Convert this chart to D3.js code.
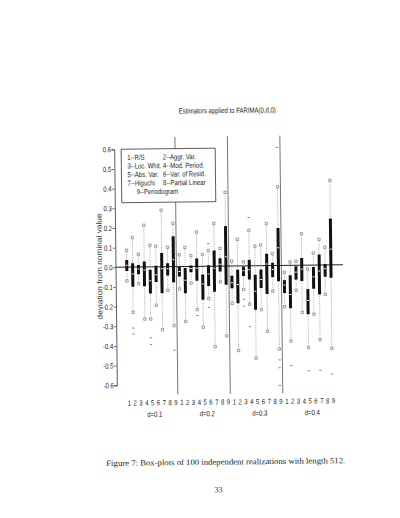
<!DOCTYPE html>
<html><head><meta charset="utf-8">
<script src="https://cdn.jsdelivr.net/npm/d3@7"></script>
<style>body{margin:0;background:#fff}</style>
</head><body>
<svg id="c" width="400" height="518"></svg>
<script>
// ---------- data ----------
const groups = ["d=0.1", "d=0.2", "d=0.3", "d=0.4"];
const estimators = ["1","2","3","4","5","6","7","8","9"];
const tickValues = [0.6,0.5,0.4,0.3,0.2,0.1,0,-0.1,-0.2,-0.3,-0.4,-0.5,-0.6];
const tickLabels = ["0.6","0.5","0.4","0.3","0.2","0.1","0.0","-0.1","-0.2","-0.3","-0.4","-0.5","-0.6"];
const legendItems = ["1--R/S","2--Aggr. Var.","3--Loc. Whit.","4--Mod. Period.","5--Abs. Var.","6--Var. of Resid.","7--Higuchi","8--Partial Linear","9--Periodogram"];
const titleText = "Estimators applied to FARIMA(0,d,0)";
const yLabel = "deviation from nominal value";
const caption = "Figure 7: Box-plots of 100 independent realizations with length 512.";
const pageNumber = "33";

// 36 boxes: d=0.1 (1..9), d=0.2 (1..9), d=0.3 (1..9), d=0.4 (1..9)
const whiskerHigh = [0.086,0.15,0.065,0.212,0.11,0.105,0.288,0.099,0.22,
                     0.06,0.097,0.055,0.175,0.06,0.08,0.217,0.09,0.375,
                     0.025,0.135,0.02,0.18,0.1,0.105,0.214,0.06,0.40,
                     -0.035,0.017,0.02,0.16,-0.02,0.061,0.13,0.09,0.43];
const q3 = [0.037,0.02,0.01,0.028,-0.015,0.005,0.07,0.018,0.155,
            0.0,-0.008,0.005,0.04,-0.042,0.005,0.08,0.04,0.203,
            -0.05,-0.02,-0.003,0.03,-0.046,-0.02,0.06,0.014,0.19,
            -0.075,-0.05,-0.005,0.036,-0.122,-0.01,0.053,0.005,0.235];
const median = [0.01,-0.035,-0.01,-0.015,-0.07,-0.04,-0.01,-0.01,0.035,
                -0.025,-0.07,-0.01,-0.01,-0.09,-0.04,-0.01,0.01,0.047,
                -0.085,-0.095,-0.025,-0.02,-0.13,-0.07,0.008,-0.02,0.09,
                -0.1,-0.148,-0.035,-0.02,-0.18,-0.06,-0.03,-0.02,0.08];
const q1 = [-0.02,-0.1,-0.037,-0.098,-0.135,-0.077,-0.135,-0.045,-0.08,
            -0.05,-0.136,-0.03,-0.073,-0.17,-0.1,-0.13,-0.027,-0.095,
            -0.113,-0.19,-0.052,-0.07,-0.224,-0.114,-0.144,-0.059,-0.08,
            -0.14,-0.218,-0.073,-0.08,-0.25,-0.12,-0.15,-0.06,-0.066];
const whiskerLow = [-0.07,-0.23,-0.085,-0.265,-0.265,-0.195,-0.32,-0.12,-0.3,
                    -0.114,-0.28,-0.085,-0.22,-0.31,-0.165,-0.41,-0.08,-0.355,
                    -0.19,-0.43,-0.12,-0.195,-0.47,-0.224,-0.334,-0.13,-0.425,
                    -0.21,-0.385,-0.128,-0.24,-0.42,-0.25,-0.38,-0.15,-0.425];
// outliers: [box index, value]
const outlierBox = [1,1,4,4,8, 12,14,14, 20,20,21,21,26,26,26,26, 28,31,33,35];
const outlierVal = [-0.31,-0.34,-0.36,-0.395,-0.425, -0.25,0.115,-0.21,
                    -0.17,-0.205,0.245,-0.31,0.6,-0.48,-0.52,-0.61, -0.51,-0.537,-0.535,-0.555];

// ---------- drawing ----------
const svg = d3.select("#c");
svg.append("rect").attr("width",400).attr("height",518).attr("fill","#fff");
const page = svg.append("g").attr("transform","rotate(-0.65,230,266)");

const sans = "'Liberation Sans','Arial','Helvetica',sans-serif";
const SX = 0.8; // condensed face
function narrowText(parent, x0, y0, txt, anchor, size) {
  return parent.append("text")
    .attr("transform", `translate(${x0},${y0}) scale(${SX},1)`)
    .attr("text-anchor", anchor || "start")
    .attr("font-family", sans).attr("font-size", size || 7.5).attr("fill", "#222")
    .text(txt);
}

const keys = [];
groups.forEach((g,gi)=>estimators.forEach(e=>keys.push(gi+"-"+e)));
const x = d3.scalePoint().domain(keys).range([126.8, 330.9]);
const y = d3.scaleLinear().domain([-0.6,0.6]).range([384,148]);
const step = x.step();
const axisX = 115.5;

// separators between groups
const sepIdx = [1,2,3];
page.selectAll("line.sep").data(sepIdx).join("line")
  .attr("x1",d=>x(keys[d*9-1])+step/2).attr("x2",d=>x(keys[d*9-1])+step/2)
  .attr("y1",y(0.66)).attr("y2",y(-0.65))
  .attr("stroke","#555").attr("stroke-width",0.8);

// zero line
page.append("line").attr("x1",axisX).attr("x2",343).attr("y1",y(0)).attr("y2",y(0))
  .attr("stroke","#222").attr("stroke-width",1.1);

const boxes = keys.map((k,i)=>({k,i,hi:whiskerHigh[i],q3:q3[i],med:median[i],q1:q1[i],lo:whiskerLow[i]}));

// whiskers
const wg = page.append("g");
wg.selectAll("line.wu").data(boxes).join("line")
  .attr("x1",d=>x(d.k)).attr("x2",d=>x(d.k)).attr("y1",d=>y(d.q3)).attr("y2",d=>y(d.hi)+1)
  .attr("stroke","#888").attr("stroke-width",0.7).attr("stroke-dasharray","0.8,0.9");
wg.selectAll("line.wl").data(boxes).join("line")
  .attr("x1",d=>x(d.k)).attr("x2",d=>x(d.k)).attr("y1",d=>y(d.q1)).attr("y2",d=>y(d.lo)-1)
  .attr("stroke","#888").attr("stroke-width",0.7).attr("stroke-dasharray","0.8,0.9");
// boxes
page.selectAll("rect.box").data(boxes).join("rect")
  .attr("x",d=>x(d.k)-1.5).attr("width",3)
  .attr("y",d=>y(d.q3)).attr("height",d=>y(d.q1)-y(d.q3))
  .attr("fill","#111");
// medians
page.selectAll("line.med").data(boxes).join("line")
  .attr("x1",d=>x(d.k)-0.9).attr("x2",d=>x(d.k)+0.9).attr("y1",d=>y(d.med)).attr("y2",d=>y(d.med))
  .attr("stroke","#fff").attr("stroke-width",1);
// whisker end squares
const ends = [];
boxes.forEach(d=>{ends.push({k:d.k,v:d.hi});ends.push({k:d.k,v:d.lo});});
page.selectAll("rect.end").data(ends).join("rect")
  .attr("x",d=>x(d.k)-1.2).attr("y",d=>y(d.v)-1.2).attr("width",2.4).attr("height",2.4)
  .attr("fill","#fff").attr("stroke","#666").attr("stroke-width",0.6);
// outliers
const outs = outlierBox.map((b,i)=>({k:keys[b],v:outlierVal[i]}));
page.selectAll("line.out").data(outs).join("line")
  .attr("x1",d=>x(d.k)-1.2).attr("x2",d=>x(d.k)+1.2).attr("y1",d=>y(d.v)).attr("y2",d=>y(d.v))
  .attr("stroke","#555").attr("stroke-width",0.7);

// y axis
const ax = page.append("g").attr("transform",`translate(${axisX},0)`)
  .call(d3.axisLeft(y).tickValues(tickValues).tickFormat((d,i)=>tickLabels[i]).tickSize(2.5).tickPadding(0.5));
ax.select(".domain").attr("stroke","#333").attr("stroke-width",0.8);
ax.selectAll(".tick line").attr("stroke","#333").attr("stroke-width",0.7);
ax.selectAll(".tick text").attr("font-family",sans).attr("font-size",7.5).attr("fill","#222")
  .attr("x",-3/SX).attr("transform",`scale(${SX},1)`);

// x labels
keys.forEach(k=>narrowText(page, x(k)+1, 404.5, k.split("-")[1], "middle"));
groups.forEach((g,i)=>narrowText(page, x(i+"-5")+3, 416, g, "middle"));

// y label
page.append("text").attr("transform","translate(102,265) rotate(-90)")
  .attr("text-anchor","middle").attr("font-family",sans).attr("font-size",7.5)
  .attr("textLength",106).attr("lengthAdjust","spacingAndGlyphs")
  .attr("fill","#333").text(yLabel);

// title
narrowText(page, 229, 113, titleText, "middle");

// legend
const lg = page.append("g");
lg.append("rect").attr("x",122.5).attr("y",148).attr("width",94).attr("height",53.5)
  .attr("fill","#fff").attr("stroke","#333").attr("stroke-width",0.8);
legendItems.forEach((t,i)=>{
  const row = Math.floor(i/2), col = i%2;
  const xx = i===8 ? 137.5 : (col===0 ? 128.5 : 164);
  narrowText(lg, xx, 158.8+row*8.6, t, "start");
});

// caption and page number
page.append("text").attr("x",104).attr("y",464.5).attr("textLength",239).attr("lengthAdjust","spacingAndGlyphs")
  .attr("font-family","'Liberation Serif',serif").attr("font-size",8.2).attr("fill","#222").text(caption);
page.append("text").attr("x",216).attr("y",492).attr("text-anchor","middle")
  .attr("font-family","'Liberation Serif',serif").attr("font-size",8).attr("fill","#222").text(pageNumber);
</script>
</body></html>
